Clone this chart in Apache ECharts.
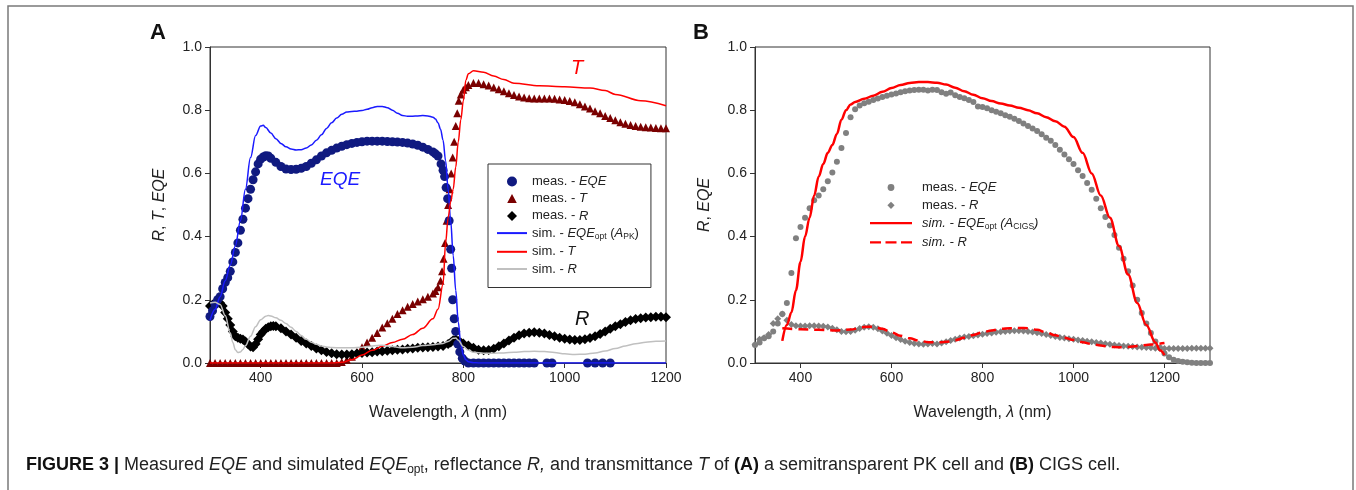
<!DOCTYPE html>
<html>
<head>
<meta charset="utf-8">
<script src="https://cdn.jsdelivr.net/npm/echarts@6/dist/echarts.min.js"></script>
<style>
  html, body { margin: 0; padding: 0; background: #fff; }
  #chart { width: 1356px; height: 490px; }
</style>
</head>
<body>
<div id="chart"></div>
<script>
// ---- Panel A: semitransparent perovskite cell (wavelength nm, value) ----
const pkEqeMeas = [
  [300,0.147],[305,0.165],[310,0.185],[315,0.2],[320,0.21],[325,0.235],[330,0.255],[335,0.27],
  [340,0.29],[345,0.32],[350,0.35],[355,0.38],[360,0.42],[365,0.455],[370,0.49],[375,0.52],
  [380,0.55],[385,0.58],[390,0.605],[395,0.63],[400,0.645],[405,0.652],[410,0.656],[415,0.655],
  [420,0.648],[430,0.635],[440,0.622],[450,0.614],[460,0.612],[470,0.613],[480,0.616],[490,0.622],
  [500,0.632],[510,0.643],[520,0.655],[530,0.665],[540,0.673],[550,0.68],[560,0.686],[570,0.691],
  [580,0.695],[590,0.698],[600,0.7],[610,0.702],[620,0.702],[630,0.702],[640,0.702],[650,0.701],
  [660,0.7],[670,0.699],[680,0.698],[690,0.696],[700,0.693],[710,0.689],[720,0.683],[730,0.676],
  [740,0.668],[745,0.662],[750,0.655],[756,0.63],[760,0.61],[763,0.59],[766,0.555],[769,0.52],
  [772,0.45],[775,0.36],[777,0.3],[779,0.2],[782,0.14],[785,0.1],[789,0.06],[793,0.035],
  [798,0.015],[803,0.006],[810,0],[820,0],[830,0],[840,0],[850,0],[860,0],[870,0],[880,0],
  [890,0],[900,0],[910,0],[920,0],[930,0],[940,0],[965,0],[975,0],[1045,0],[1060,0],[1075,0],[1090,0]
];
const pkTMeas = [
  [300,0],[310,0],[320,0],[330,0],[340,0],[350,0],[360,0],[370,0],[380,0],[390,0],[400,0],
  [410,0],[420,0],[430,0],[440,0],[450,0],[460,0],[470,0],[480,0],[490,0],[500,0],[510,0],
  [520,0],[530,0],[540,0],[550,0],[560,0.003],[570,0.01],[580,0.02],[590,0.035],[600,0.05],
  [610,0.065],[620,0.08],[630,0.095],[640,0.112],[650,0.126],[660,0.14],[670,0.155],[680,0.167],
  [690,0.178],[700,0.187],[710,0.195],[720,0.202],[730,0.21],[740,0.22],[745,0.228],[750,0.24],
  [755,0.26],[758,0.29],[761,0.33],[764,0.38],[767,0.45],[770,0.5],[773,0.55],[776,0.6],
  [779,0.65],[782,0.7],[785,0.75],[788,0.79],[791,0.83],[795,0.85],[800,0.865],[805,0.873],
  [810,0.88],[820,0.886],[830,0.886],[840,0.882],[850,0.878],[860,0.872],[870,0.866],[880,0.86],
  [890,0.854],[900,0.848],[910,0.843],[920,0.84],[930,0.838],[940,0.837],[950,0.837],[960,0.837],
  [970,0.837],[980,0.836],[990,0.834],[1000,0.832],[1010,0.829],[1020,0.825],[1030,0.819],
  [1040,0.812],[1050,0.805],[1060,0.797],[1070,0.79],[1080,0.782],[1090,0.775],[1100,0.768],
  [1110,0.762],[1120,0.757],[1130,0.753],[1140,0.75],[1150,0.748],[1160,0.746],[1170,0.745],
  [1180,0.744],[1190,0.743],[1200,0.743]
];
const pkRMeas = [
  [300,0.18],[305,0.185],[310,0.19],[315,0.193],[320,0.19],[325,0.18],[330,0.16],[335,0.14],
  [340,0.12],[345,0.1],[350,0.085],[355,0.08],[360,0.077],[365,0.074],[370,0.068],[375,0.06],
  [380,0.052],[385,0.05],[390,0.06],[395,0.075],[400,0.09],[405,0.1],[410,0.108],[415,0.113],
  [420,0.116],[425,0.117],[430,0.116],[440,0.11],[450,0.1],[460,0.09],[470,0.08],[480,0.07],
  [490,0.062],[500,0.054],[510,0.046],[520,0.04],[530,0.035],[540,0.031],[550,0.028],[560,0.027],
  [570,0.027],[580,0.028],[590,0.03],[600,0.032],[610,0.033],[620,0.034],[630,0.036],[640,0.037],
  [650,0.039],[660,0.04],[670,0.042],[680,0.043],[690,0.045],[700,0.046],[710,0.048],[720,0.049],
  [730,0.05],[740,0.051],[750,0.052],[760,0.054],[770,0.06],[775,0.065],[780,0.072],[785,0.074],
  [790,0.07],[795,0.065],[800,0.062],[810,0.055],[820,0.048],[830,0.042],[840,0.04],[850,0.041],
  [860,0.045],[870,0.053],[880,0.062],[890,0.071],[900,0.08],[910,0.088],[920,0.093],[930,0.096],
  [940,0.097],[950,0.096],[960,0.093],[970,0.089],[980,0.085],[990,0.08],[1000,0.077],[1010,0.074],
  [1020,0.073],[1030,0.073],[1040,0.075],[1050,0.079],[1060,0.085],[1070,0.092],[1080,0.1],
  [1090,0.108],[1100,0.116],[1110,0.123],[1120,0.13],[1130,0.135],[1140,0.139],[1150,0.142],
  [1160,0.144],[1170,0.145],[1180,0.146],[1190,0.146],[1200,0.145]
];
const pkEqeSim = [
  [300,0.135],[310,0.17],[320,0.21],[330,0.26],[340,0.31],[350,0.37],[360,0.45],[370,0.55],
  [380,0.65],[390,0.72],[400,0.75],[405,0.752],[410,0.745],[420,0.728],[430,0.71],[440,0.695],
  [450,0.684],[460,0.677],[470,0.674],[480,0.675],[490,0.68],[500,0.69],[510,0.705],[520,0.722],
  [530,0.742],[540,0.76],[550,0.775],[560,0.787],[570,0.794],[580,0.796],[590,0.797],[600,0.799],
  [610,0.803],[620,0.808],[630,0.812],[640,0.812],[650,0.808],[660,0.8],[670,0.79],[680,0.783],
  [690,0.781],[700,0.781],[710,0.782],[720,0.783],[730,0.782],[740,0.778],[745,0.772],[750,0.76],
  [755,0.74],[760,0.705],[765,0.64],[770,0.55],[775,0.45],[780,0.34],[785,0.23],[790,0.13],
  [795,0.06],[800,0.025],[805,0.01],[810,0.004],[820,0.001],[830,0],[1200,0]
];
const pkTSim = [
  [300,0],[540,0],[560,0.002],[580,0.01],[600,0.025],[620,0.04],[640,0.053],[660,0.065],
  [680,0.075],[700,0.09],[720,0.11],[740,0.14],[750,0.17],[760,0.25],[765,0.38],[770,0.46],
  [775,0.51],[780,0.55],[785,0.62],[790,0.7],[795,0.77],[800,0.83],[805,0.895],[810,0.915],
  [820,0.925],[840,0.92],[860,0.908],[880,0.897],[900,0.885],[950,0.877],[1000,0.874],
  [1050,0.87],[1080,0.862],[1100,0.85],[1150,0.83],[1200,0.814]
];
const pkRSim = [
  [300,0.19],[310,0.192],[320,0.185],[330,0.15],[340,0.095],[345,0.065],[350,0.042],[355,0.033],
  [360,0.035],[365,0.043],[370,0.055],[380,0.085],[390,0.115],[400,0.137],[410,0.148],[415,0.15],
  [420,0.149],[430,0.143],[440,0.135],[450,0.125],[460,0.113],[470,0.1],[480,0.087],[490,0.075],
  [500,0.066],[510,0.059],[520,0.054],[530,0.051],[540,0.049],[560,0.048],[580,0.048],[600,0.05],
  [620,0.054],[640,0.056],[660,0.052],[680,0.048],[700,0.05],[720,0.055],[740,0.058],[760,0.062],
  [770,0.068],[780,0.078],[785,0.079],[790,0.072],[800,0.052],[810,0.04],[820,0.034],[840,0.031],
  [860,0.031],[880,0.032],[900,0.034],[920,0.036],[940,0.037],[960,0.036],[980,0.033],[1000,0.029],
  [1020,0.027],[1040,0.028],[1060,0.032],[1080,0.038],[1100,0.046],[1120,0.054],[1140,0.061],
  [1160,0.066],[1180,0.069],[1200,0.07]
];

// ---- Panel B: CIGS cell ----
const cigsEqeMeas = [
  [300,0.057],[310,0.065],[320,0.078],[330,0.085],[340,0.1],[350,0.125],[360,0.155],[370,0.19],
  [380,0.285],[390,0.395],[400,0.43],[410,0.46],[420,0.49],[430,0.515],[440,0.53],[450,0.55],
  [460,0.575],[470,0.603],[480,0.637],[490,0.68],[500,0.728],[510,0.778],[520,0.803],[530,0.815],
  [540,0.822],[550,0.827],[560,0.832],[570,0.837],[580,0.842],[590,0.846],[600,0.85],[610,0.853],
  [620,0.857],[630,0.86],[640,0.862],[650,0.864],[660,0.865],[670,0.865],[680,0.862],[690,0.865],
  [700,0.864],[710,0.857],[720,0.852],[730,0.856],[740,0.847],[750,0.842],[760,0.838],[770,0.832],
  [780,0.826],[790,0.812],[800,0.81],[810,0.806],[820,0.8],[830,0.795],[840,0.79],[850,0.784],
  [860,0.779],[870,0.773],[880,0.766],[890,0.758],[900,0.75],[910,0.742],[920,0.734],[930,0.724],
  [940,0.713],[950,0.703],[960,0.69],[970,0.675],[980,0.66],[990,0.645],[1000,0.63],[1010,0.61],
  [1020,0.592],[1030,0.57],[1040,0.548],[1050,0.52],[1060,0.49],[1070,0.462],[1080,0.435],
  [1090,0.405],[1100,0.365],[1110,0.33],[1120,0.29],[1130,0.245],[1140,0.2],[1150,0.158],
  [1160,0.125],[1170,0.095],[1180,0.068],[1190,0.048],[1200,0.03],[1210,0.018],[1220,0.01],
  [1230,0.006],[1240,0.004],[1250,0.002],[1260,0.001],[1270,0],[1280,0],[1290,0],[1300,0]
];
const cigsRMeas = [
  [300,0.058],[310,0.075],[320,0.08],[330,0.09],[340,0.125],[350,0.14],[360,0.155],[370,0.135],
  [380,0.122],[390,0.118],[400,0.117],[410,0.117],[420,0.118],[430,0.118],[440,0.117],[450,0.116],
  [460,0.114],[470,0.11],[480,0.105],[490,0.1],[500,0.099],[510,0.1],[520,0.104],[530,0.109],
  [540,0.113],[550,0.115],[560,0.113],[570,0.108],[580,0.101],[590,0.094],[600,0.087],[610,0.08],
  [620,0.074],[630,0.069],[640,0.065],[650,0.062],[660,0.06],[670,0.059],[680,0.06],[690,0.062],
  [700,0.06],[710,0.063],[720,0.067],[730,0.071],[740,0.075],[750,0.079],[760,0.082],[770,0.084],
  [780,0.086],[790,0.089],[800,0.091],[810,0.093],[820,0.095],[830,0.097],[840,0.099],[850,0.1],
  [860,0.101],[870,0.102],[880,0.102],[890,0.101],[900,0.1],[910,0.098],[920,0.096],[930,0.093],
  [940,0.09],[950,0.087],[960,0.084],[970,0.081],[980,0.079],[990,0.077],[1000,0.075],[1010,0.073],
  [1020,0.071],[1030,0.069],[1040,0.067],[1050,0.065],[1060,0.063],[1070,0.061],[1080,0.059],
  [1090,0.057],[1100,0.055],[1110,0.054],[1120,0.053],[1130,0.052],[1140,0.051],[1150,0.05],
  [1160,0.049],[1170,0.048],[1180,0.047],[1190,0.046],[1200,0.046],[1210,0.046],[1220,0.046],
  [1230,0.046],[1240,0.046],[1250,0.046],[1260,0.047],[1270,0.047],[1280,0.047],[1290,0.047],[1300,0.047]
];
const cigsEqeSim = [
  [360,0.07],[370,0.12],[380,0.16],[390,0.23],[400,0.32],[410,0.4],[420,0.46],[430,0.53],
  [440,0.59],[450,0.63],[460,0.665],[470,0.69],[480,0.725],[490,0.77],[500,0.8],[510,0.818],
  [520,0.826],[540,0.836],[560,0.846],[580,0.858],[600,0.87],[620,0.88],[640,0.886],[660,0.889],
  [680,0.889],[700,0.887],[720,0.881],[740,0.871],[760,0.86],[780,0.849],[800,0.838],[820,0.829],
  [840,0.821],[860,0.815],[880,0.808],[900,0.8],[920,0.79],[940,0.778],[960,0.765],[980,0.748],
  [1000,0.715],[1020,0.665],[1040,0.6],[1060,0.53],[1080,0.46],[1100,0.37],[1120,0.28],
  [1140,0.19],[1160,0.12],[1180,0.065],[1190,0.04],[1200,0.025]
];
const cigsRSim = [
  [360,0.11],[400,0.107],[440,0.105],[480,0.103],[510,0.106],[540,0.114],[560,0.115],[580,0.108],
  [600,0.097],[620,0.086],[640,0.078],[660,0.071],[680,0.066],[700,0.065],[720,0.067],[740,0.072],
  [760,0.08],[780,0.089],[800,0.097],[820,0.103],[840,0.108],[860,0.11],[880,0.111],[900,0.11],
  [920,0.105],[940,0.097],[960,0.088],[980,0.08],[1000,0.073],[1020,0.066],[1040,0.06],[1060,0.055],
  [1080,0.051],[1100,0.05],[1120,0.051],[1140,0.054],[1160,0.057],[1180,0.06],[1200,0.063]
];

// Axis tick positions
const xTicksA = [400, 600, 800, 1000, 1200];
const xTicksB = [400, 600, 800, 1000, 1200];

// Legend entry texts (rich-text markup)
const legendLabels = {
  'pk-eqe-meas': '{n|meas. - }{i|EQE}',
  'pk-t-meas': '{n|meas. - }{i|T}',
  'pk-r-meas': '{n|meas. - }{i|R}',
  'pk-eqe-sim': '{n|sim. - }{i|EQE}{s|opt}{n| (}{i|A}{s|PK}{n|)}',
  'pk-t-sim': '{n|sim. - }{i|T}',
  'pk-r-sim': '{n|sim. - }{i|R}',
  'cigs-eqe-meas': '{n|meas. - }{i|EQE}',
  'cigs-r-meas': '{n|meas. - }{i|R}',
  'cigs-eqe-sim': '{i|sim. - EQE}{s|opt}{i| (A}{s|CIGS}{i|)}',
  'cigs-r-sim': '{i|sim. - R}'
};

// Legend key glyphs; each path spans the full key box so it is laid out 1:1
const keyA = {
  circle: 'circle',
  triangle: 'path://M0,0M30,10M15,0.4L19.8,9.4L10.2,9.4Z',
  diamond: 'path://M0,0M30,10M15,0L20,5L15,10L10,5Z',
  line: 'path://M0,0M30,10M0,4L30,4L30,6L0,6Z'
};
const keyB = {
  circle: 'path://M0,0M42,9M24.4,4.5A3.4,3.4,0,1,1,17.6,4.5A3.4,3.4,0,1,1,24.4,4.5Z',
  diamond: 'path://M0,0M42,9M21,0.9L24.6,4.5L21,8.1L17.4,4.5Z',
  line: 'path://M0,0M42,9M0,3.3L42,3.3L42,5.7L0,5.7Z',
  dash: 'path://M0,0M42,9M0,3.3L11,3.3L11,5.7L0,5.7Z M15.5,3.3L26.5,3.3L26.5,5.7L15.5,5.7Z M31,3.3L42,3.3L42,5.7L31,5.7Z'
};

const FONT = '"Liberation Sans", Arial, Helvetica, sans-serif';
const TXT = '#222';

const richLegend = {
  n: { fontFamily: FONT, fontSize: 13, color: TXT, lineHeight: 16 },
  i: { fontFamily: FONT, fontSize: 13, color: TXT, fontStyle: 'italic', lineHeight: 16 },
  s: { fontFamily: FONT, fontSize: 8.5, color: TXT, verticalAlign: 'bottom', lineHeight: 16 }
};

function xAxisCfg(gridIndex, min, max, ticks) {
  return {
    type: 'value', gridIndex, min, max,
    name: 'Wavelength, {i|λ} (nm)',
    nameLocation: 'middle', nameGap: 42,
    nameTextStyle: {
      fontFamily: FONT, fontSize: 16, color: TXT,
      rich: { i: { fontFamily: FONT, fontSize: 16, color: TXT, fontStyle: 'italic' } }
    },
    axisLine: { show: true, lineStyle: { color: '#333', width: 1 } },
    axisTick: { show: true, inside: false, length: 5, customValues: ticks, lineStyle: { color: '#333' } },
    axisLabel: { customValues: ticks, fontFamily: FONT, fontSize: 14, color: TXT, margin: 8,
                 formatter: v => String(v) },
    splitLine: { show: false }
  };
}
function yAxisCfg(gridIndex, name) {
  return {
    type: 'value', gridIndex, min: 0, max: 1, interval: 0.2,
    name, nameLocation: 'middle', nameGap: 42,
    nameTextStyle: {
      fontFamily: FONT, fontSize: 16, color: TXT,
      rich: { i: { fontFamily: FONT, fontSize: 16, color: TXT, fontStyle: 'italic' } }
    },
    axisLine: { show: true, lineStyle: { color: '#333', width: 1 } },
    axisTick: { show: true, inside: false, length: 5, lineStyle: { color: '#333' } },
    axisLabel: { fontFamily: FONT, fontSize: 14, color: TXT, margin: 8, formatter: v => v.toFixed(1) },
    splitLine: { show: false }
  };
}

function scatter(name, data, xi, symbol, size, color, z) {
  return { name, type: 'scatter', xAxisIndex: xi, yAxisIndex: xi, data, symbol, symbolSize: size,
           itemStyle: { color, opacity: 1 }, z, silent: true, clip: false };
}
function line(name, data, xi, color, width, z, dash) {
  return { name, type: 'line', xAxisIndex: xi, yAxisIndex: xi, data, symbol: 'none', showSymbol: false,
           smooth: 0.35, smoothMonotone: 'x',
           lineStyle: { color, width, type: dash || 'solid' }, itemStyle: { color }, z, silent: true };
}

const chart = echarts.init(document.getElementById('chart'), null, { renderer: 'canvas' });

chart.setOption({
  animation: false,
  backgroundColor: '#ffffff',
  grid: [
    { left: 210, right: 690, top: 47, bottom: 127, show: true, borderColor: '#333', borderWidth: 1 },
    { left: 755, right: 146, top: 47, bottom: 127, show: true, borderColor: '#333', borderWidth: 1 }
  ],
  xAxis: [xAxisCfg(0, 300, 1200, xTicksA), xAxisCfg(1, 300, 1300, xTicksB)],
  yAxis: [yAxisCfg(0, '{i|R}, {i|T}, {i|EQE}'), yAxisCfg(1, '{i|R}, {i|EQE}')],
  legend: [
    {
      data: [
        { name: 'pk-eqe-meas', icon: keyA.circle },
        { name: 'pk-t-meas', icon: keyA.triangle },
        { name: 'pk-r-meas', icon: keyA.diamond },
        { name: 'pk-eqe-sim', icon: keyA.line },
        { name: 'pk-t-sim', icon: keyA.line },
        { name: 'pk-r-sim', icon: keyA.line }
      ],
      orient: 'vertical', left: 488, top: 164,
      padding: [11, 12, 12, 9], itemGap: 4.2, itemWidth: 30, itemHeight: 10,
      borderColor: '#333', borderWidth: 1, backgroundColor: '#fff',
      formatter: n => legendLabels[n],
      textStyle: { fontFamily: FONT, fontSize: 13, color: TXT, rich: richLegend }
    },
    {
      data: [
        { name: 'cigs-eqe-meas', icon: keyB.circle },
        { name: 'cigs-r-meas', icon: keyB.diamond },
        { name: 'cigs-eqe-sim', icon: keyB.line },
        { name: 'cigs-r-sim', icon: keyB.dash }
      ],
      orient: 'vertical', left: 870, top: 181,
      padding: 0, itemGap: 4.8, itemWidth: 42, itemHeight: 9,
      formatter: n => legendLabels[n],
      textStyle: { fontFamily: FONT, fontSize: 13, color: TXT, padding: [0, 0, 0, 5], rich: richLegend }
    }
  ],
  series: [
    scatter('pk-t-meas', pkTMeas, 0, 'triangle', 8, '#7a0000', 2),
    scatter('pk-r-meas', pkRMeas, 0, 'diamond', 10, '#000000', 3),
    scatter('pk-eqe-meas', pkEqeMeas, 0, 'circle', 9, '#101a80', 4),
    line('pk-eqe-sim', pkEqeSim, 0, '#1a1aff', 1.5, 6),
    line('pk-t-sim', pkTSim, 0, '#ff0000', 1.5, 6),
    line('pk-r-sim', pkRSim, 0, '#c0c0c0', 1.5, 6),
    scatter('cigs-eqe-meas', cigsEqeMeas, 1, 'circle', 6, '#808080', 3),
    scatter('cigs-r-meas', cigsRMeas, 1, 'diamond', 7, '#808080', 3),
    line('cigs-eqe-sim', cigsEqeSim, 1, '#ff0000', 2.5, 6),
    line('cigs-r-sim', cigsRSim, 1, '#ff0000', 2.5, 6, [10, 6])
  ],
  graphic: [
    { type: 'rect', silent: true, z: 0,
      shape: { x: 8, y: 6, width: 1345, height: 520 },
      style: { fill: 'none', stroke: '#7a7a7a', lineWidth: 1.5 } },
    { type: 'text', left: 150, top: 22, silent: true,
      style: { text: 'A', fontFamily: FONT, fontSize: 22, fontWeight: 'bold', fill: '#111' } },
    { type: 'text', left: 693, top: 22, silent: true,
      style: { text: 'B', fontFamily: FONT, fontSize: 22, fontWeight: 'bold', fill: '#111' } },
    { type: 'text', left: 320, top: 170, silent: true,
      style: { text: 'EQE', fontFamily: FONT, fontSize: 19, fontStyle: 'italic', fill: '#1a1aff' } },
    { type: 'text', left: 571, top: 58, silent: true,
      style: { text: 'T', fontFamily: FONT, fontSize: 20, fontStyle: 'italic', fill: '#ff0000' } },
    { type: 'text', left: 575, top: 309, silent: true,
      style: { text: 'R', fontFamily: FONT, fontSize: 20, fontStyle: 'italic', fill: '#111' } },
    { type: 'text', left: 26, top: 456, silent: true,
      style: {
        text: '{b|FIGURE 3 | }{n|Measured }{i|EQE}{n| and simulated }{i|EQE}{s|opt}{n|, reflectance }{i|R,}{n| and transmittance }{i|T}{n| of }{b|(A)}{n| a semitransparent PK cell and }{b|(B)}{n| CIGS cell.}',
        rich: {
          b: { fontFamily: FONT, fontSize: 18, fontWeight: 'bold', fill: '#111', lineHeight: 22 },
          n: { fontFamily: FONT, fontSize: 18, fill: '#222', lineHeight: 22 },
          i: { fontFamily: FONT, fontSize: 18, fontStyle: 'italic', fill: '#222', lineHeight: 22 },
          s: { fontFamily: FONT, fontSize: 12, fill: '#222', verticalAlign: 'bottom', lineHeight: 22 }
        }
      } }
  ]
});
</script>
</body>
</html>
